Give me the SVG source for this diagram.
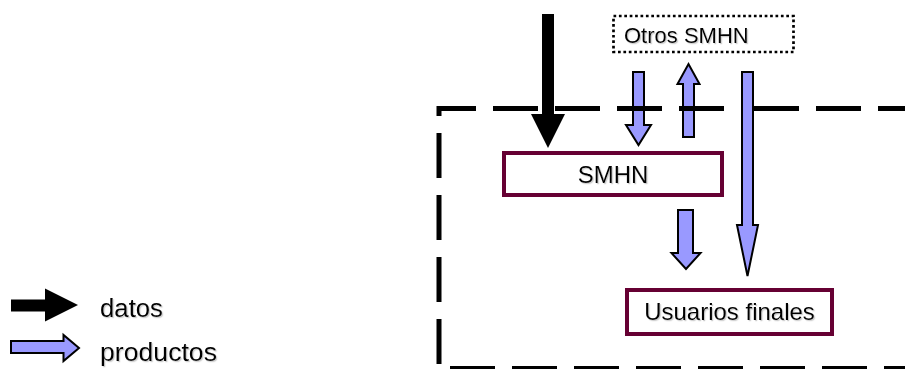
<svg xmlns="http://www.w3.org/2000/svg" width="905" height="369" viewBox="0 0 905 369">
<defs>
<filter id="sh" x="-10%" y="-20%" width="130%" height="160%">
<feDropShadow dx="1.2" dy="1.2" stdDeviation="0.5" flood-color="#999" flood-opacity="0.5"/>
</filter>
</defs>
<style>
text{font-family:"Liberation Sans",Arial,sans-serif;fill:#000;filter:url(#sh)}
.blue{fill:#9999FF;stroke:#000;stroke-width:2;stroke-linejoin:miter}
.black{fill:#000;stroke:none}
.node{fill:#fff;stroke:#660033;stroke-width:4}
.frame{stroke:#000;stroke-width:5;fill:none;stroke-dasharray:45 17}
</style>
<rect width="905" height="369" fill="#fff"/>
<g id="connectors">
<polygon class="black" points="542,14 554,14 554,114 565,114 548,148 531,114 542,114"/>
<polygon class="blue" points="633,72 644,72 644,125 651,125 638.5,145 626,125 633,125"/>
<polygon class="blue" points="683,137 694,137 694,84 699.5,84 688.5,64 677.5,84 683,84"/>
<polygon class="blue" points="742,72 753,72 753,225 758,225 747.5,276 737,225 742,225"/>
<polygon class="blue" points="678,210 693,210 693,253 700.5,253 686,269 671.5,253 678,253"/>
</g>
<g id="frame">
<line class="frame" x1="437" y1="108.5" x2="741" y2="108.5" stroke-dashoffset="6"/>
<line class="frame" x1="754" y1="108.5" x2="905" y2="108.5" stroke-dasharray="32 17 45 17 45 17"/>
<line class="frame" x1="439" y1="106" x2="439" y2="366" stroke-dashoffset="35"/>
<line class="frame" x1="450" y1="368.5" x2="905" y2="368.5" stroke-width="4"/>
</g>
<g id="otros">
<rect x="613.5" y="16" width="180" height="36" fill="#fff" stroke="#000" stroke-width="2.7" stroke-dasharray="2.7 2.7"/>
<text x="624" y="42.5" font-size="22">Otros SMHN</text>
</g>
<g id="smhn">
<rect class="node" x="504" y="153" width="218" height="42"/>
<text x="613" y="183" font-size="24" text-anchor="middle">SMHN</text>
</g>
<g id="usuarios">
<rect class="node" x="627" y="290" width="205" height="44"/>
<text x="729.5" y="320" font-size="24" text-anchor="middle">Usuarios finales</text>
</g>
<g id="legend">
<polygon class="black" points="11,299.5 45,299.5 45,288.5 78,305 45,321.5 45,311.5 11,311.5"/>
<text x="100" y="317" font-size="25" textLength="63" lengthAdjust="spacingAndGlyphs">datos</text>
<polygon class="blue" points="11,341 63.5,341 63.5,335 79,348 63.5,361 63.5,353 11,353"/>
<text x="100" y="361" font-size="25" textLength="117" lengthAdjust="spacingAndGlyphs">productos</text>
</g>
</svg>
